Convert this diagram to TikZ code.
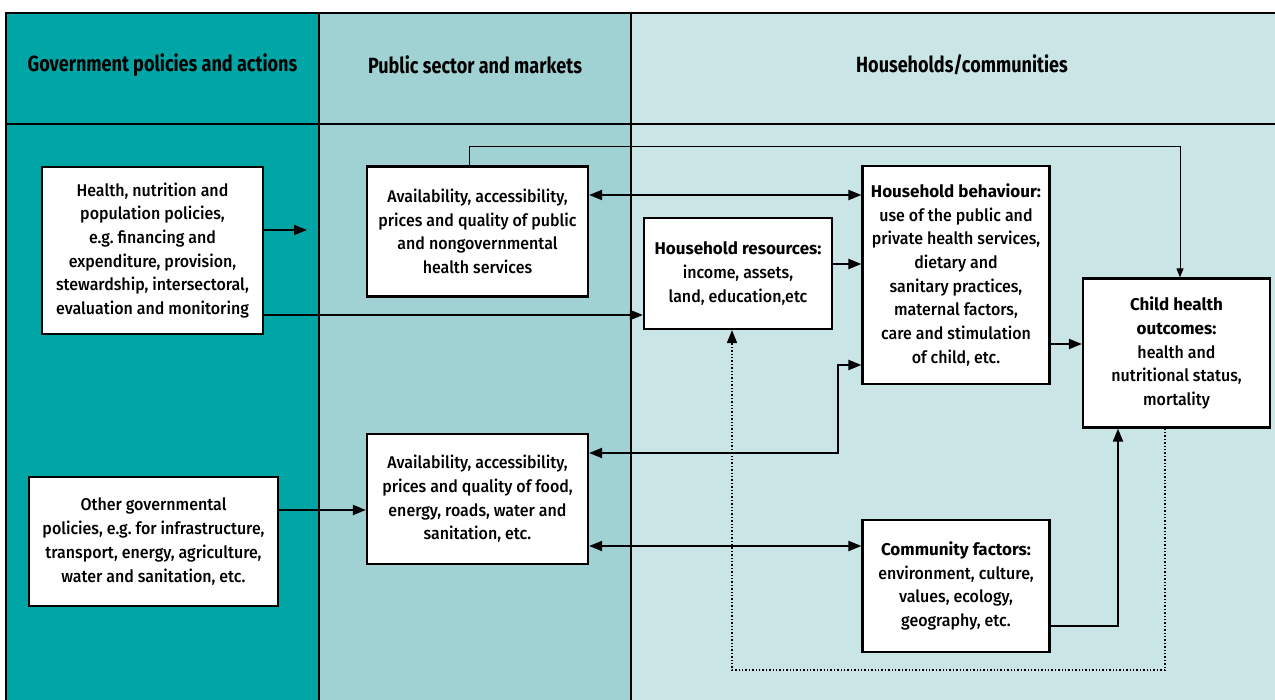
\documentclass[tikz,border=0pt]{standalone}
\usepackage{fontspec}
\setmainfont{Fira Sans}[UprightFont={* Medium}, BoldFont={* Bold},
  UprightFeatures={FakeStretch=0.94}, BoldFeatures={FakeStretch=1.0}]
\newfontfamily\hdrfont{Fira Sans Bold}[FakeStretch=0.82]
\usetikzlibrary{arrows.meta}
\definecolor{colA}{RGB}{0,166,166}
\definecolor{colB}{RGB}{161,210,211}
\definecolor{colC}{RGB}{202,229,229}
\tikzset{
  box/.style={draw=black, line width=2.2pt, fill=white, align=center, inner sep=0pt,
    font=\fontsize{17}{23.7}\selectfont},
  hdr/.style={font=\hdrfont\fontsize{22}{24}\selectfont, inner sep=0pt},
  arr/.style={-{Triangle[length=13pt,width=10pt]}, line width=2pt},
  darr/.style={{Triangle[length=13pt,width=10pt]}-{Triangle[length=13pt,width=10pt]}, line width=2pt},
  tarr/.style={-{Triangle[length=9pt,width=7pt]}, line width=1pt},
  dotarr/.style={-{Triangle[length=13pt,width=10pt]}, line width=1.6pt, dash pattern=on 1.4pt off 2pt},
  frame/.style={line width=2.5pt, draw=black}
}
\begin{document}
\begin{tikzpicture}[x=1pt,y=-1pt]
\useasboundingbox (0,0) rectangle (1275,700);
\fill[white] (0,0) rectangle (1275,700);
% columns
\fill[colA] (6,13) rectangle (319,700);
\fill[colB] (319,13) rectangle (631,700);
\fill[colC] (631,13) rectangle (1275,700);
\draw[frame] (6,700) -- (6,13) -- (1275,13);
\draw[frame] (6,124) -- (1275,124);
\draw[frame] (319,13) -- (319,700);
\draw[frame] (631,13) -- (631,700);
% headers
\node[hdr] (h1) at (162.5,65) {Government policies and actions};
\node[hdr] (h2) at (475,65) {Public sector and markets};
\node[hdr] (h3) at (962,65) {Households/communities};
% boxes
\node[box, minimum width=221pt, minimum height=167pt] (hp) at (152.5,250.5)
  {Health, nutrition and\\population policies,\\e.g.\ financing and\\expenditure, provision,\\stewardship, intersectoral,\\evaluation and monitoring};
\node[box, minimum width=221pt, minimum height=130pt] (ps) at (477.5,231.5)
  {Availability, accessibility,\\prices and quality of public\\and nongovernmental\\health services};
\node[box, minimum width=188pt, minimum height=111pt] (hr) at (738,273.5)
  {\textbf{Household resources:}\\income, assets,\\land, education,etc};
\node[box, minimum width=187pt, minimum height=218pt] (hb) at (956,275)
  {\textbf{Household behaviour:}\\use of the public and\\private health services,\\dietary and\\sanitary practices,\\maternal factors,\\care and stimulation\\of child, etc.};
\node[box, minimum width=187pt, minimum height=149pt] (co) at (1176.5,353)
  {\textbf{Child health}\\\textbf{outcomes:}\\health and\\nutritional status,\\mortality};
\node[box, minimum width=221pt, minimum height=130pt] (fd) at (477.5,499)
  {Availability, accessibility,\\prices and quality of food,\\energy, roads, water and\\sanitation, etc.};
\node[box, minimum width=249pt, minimum height=129pt] (og) at (153.5,541.5)
  {Other governmental\\policies, e.g.\ for infrastructure,\\transport, energy, agriculture,\\water and sanitation, etc.};
\node[box, minimum width=187pt, minimum height=132pt] (cf) at (956,586)
  {\textbf{Community factors:}\\environment, culture,\\values, ecology,\\geography, etc.};
% free ends
\coordinate (hpend) at (307,230);
% connectors
\draw[arr] (hp.east |- hpend) -- (hpend);
\draw[arr] (hp.east |- 0,315) -- (hr.west |- 0,315);
\draw[tarr] (ps.north -| 469,0) -- (469,147) -- (1180,147) -- (co.north -| 1180,0);
\draw[darr] (ps.east |- 0,195) -- (hb.west |- 0,195);
\draw[arr] (hr.east |- 0,264) -- (hb.west |- 0,264);
\draw[arr] (hb.east |- 0,344) -- (co.west |- 0,344);
\draw[darr] (fd.east |- 0,453) -- (838,453) -- (838,365) -- (hb.west |- 0,365);
\draw[arr] (og.east |- 0,510) -- (fd.west |- 0,510);
\draw[darr] (fd.east |- 0,546) -- (cf.west |- 0,546);
\draw[arr] (cf.east |- 0,626) -- (1118,626) -- (co.south -| 1118,0);
\draw[dotarr] (co.south -| 1165,0) -- (1165,670) -- (732,670) -- (hr.south -| 732,0);
\end{tikzpicture}
\end{document}
